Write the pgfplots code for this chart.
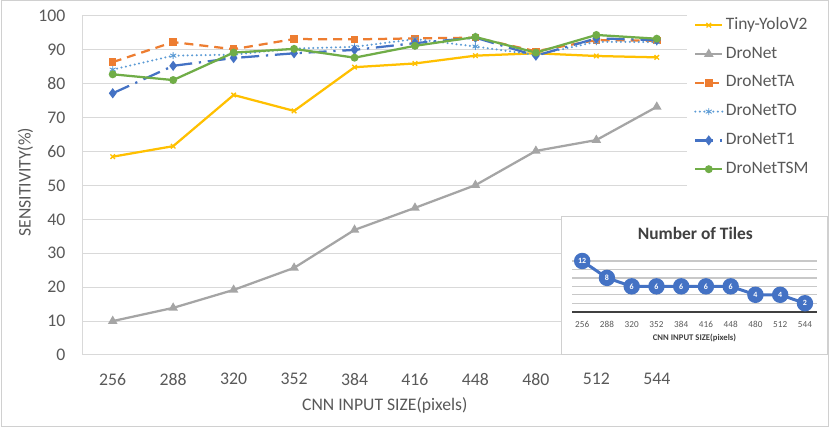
\documentclass[border=0pt]{standalone}
\usepackage{fontspec}
\setmainfont{Carlito}
\usepackage{pgfplots}
\pgfplotsset{compat=1.18}
\definecolor{cYel}{HTML}{FFC000}
\definecolor{cGray}{HTML}{A5A5A5}
\definecolor{cOra}{HTML}{ED7D31}
\definecolor{cLBlue}{HTML}{5B9BD5}
\definecolor{cBlue}{HTML}{4472C4}
\definecolor{cGreen}{HTML}{70AD47}
\definecolor{cGrid}{HTML}{D9D9D9}
\definecolor{cGridI}{HTML}{C8C8C8}
\definecolor{cText}{HTML}{595959}
\definecolor{cDark}{HTML}{404040}
\definecolor{cBorder}{HTML}{D0D0D0}
\begin{document}
\begin{tikzpicture}[x=1bp,y=1bp]
\path[use as bounding box] (0bp,0bp) rectangle (830bp,427bp);
\draw[draw=cBorder, line width=1bp, fill=white] (1bp,1bp) rectangle (828.5bp,426bp);
\begin{axis}[
  at={(82.5bp,72bp)}, anchor=south west, scale only axis,
  width=604.5bp, height=339bp,
  xmin=-0.5, xmax=9.5, ymin=0, ymax=100,
  xtick={0,...,9}, xticklabels={256,288,320,352,384,416,448,480,512,544},
  ytick={0,10,...,100},
  ymajorgrids, grid style={draw=cGrid, line width=1bp},
  axis lines*=left, axis line style={draw=cGrid, line width=1bp, -},
  major tick length=0,
  /pgf/number format/assume math mode=true,
  tick label style={font=\fontsize{17.8}{20}\selectfont, text=cText},
  yticklabel style={inner sep=0pt, anchor=east, xshift=-17bp},
  xticklabel style={inner sep=0pt, anchor=north, yshift=-18bp},
  clip=false,
  legend style={at={(axis description cs:1.0115,0.997)}, anchor=north west,
    draw=none, fill=none, font=\fontsize{17.5}{20}\selectfont, text=cText,
    row sep=12.8bp, column sep=2.5bp, inner sep=0pt,
    nodes={inner sep=0pt, text height=12bp, text depth=4bp}},
  legend cell align=left,
  legend image code/.code={\draw[mark repeat=2,mark phase=2,#1] plot coordinates {(0bp,0bp)(13.5bp,0bp)(27bp,0bp)};},
  every axis plot/.append style={line width=2.25bp},
]
\addplot[cYel, mark=x, mark size=3.2bp, mark options={solid, line width=1.3bp}] coordinates {
 (0,58.5)(1,61.6)(2,76.7)(3,72.0)(4,84.9)(5,86.0)(6,88.3)(7,89.0)(8,88.2)(9,87.8)};
\addlegendentry{Tiny-YoloV2}
\addplot[cGray, mark=triangle*, mark size=3.3bp, mark options={solid}] coordinates {
 (0,10.0)(1,13.9)(2,19.2)(3,25.7)(4,36.9)(5,43.4)(6,50.1)(7,60.2)(8,63.4)(9,73.2)};
\addlegendentry{DroNet}
\addplot[cOra, dash pattern=on 9bp off 6bp, mark=square*, mark size=2.6bp, mark options={solid}] coordinates {
 (0,86.4)(1,92.3)(2,90.2)(3,93.2)(4,93.1)(5,93.4)(6,93.6)(7,89.6)(8,92.9)(9,92.7)};
\addlegendentry{DroNetTA}
\addplot[cLBlue, line cap=round, dash pattern=on 0bp off 4.5bp, mark=asterisk, mark size=3.2bp, mark options={solid, line width=0.9bp}] coordinates {
 (0,84.2)(1,88.3)(2,88.6)(3,90.4)(4,90.9)(5,93.2)(6,91.0)(7,88.5)(8,92.4)(9,92.3)};
\addlegendentry{DroNetTO}
\addplot[cBlue, dash pattern=on 18bp off 6.75bp on 2.25bp off 6.75bp, mark=diamond*, mark size=3.3bp, mark options={solid}] coordinates {
 (0,77.2)(1,85.3)(2,87.6)(3,89.0)(4,90.0)(5,92.0)(6,93.6)(7,88.3)(8,93.4)(9,92.9)};
\addlegendentry{DroNetT1}
\addplot[cGreen, mark=*, mark size=2.8bp, mark options={solid}] coordinates {
 (0,82.8)(1,81.1)(2,89.2)(3,90.3)(4,87.7)(5,91.2)(6,93.8)(7,89.2)(8,94.4)(9,93.3)};
\addlegendentry{DroNetTSM}
\end{axis}
\node[font=\fontsize{17.7}{20}\selectfont, text=cText, anchor=base] at (384.75bp,17bp) {CNN INPUT SIZE(pixels)};
\node[font=\fontsize{17.7}{20}\selectfont, text=cText, anchor=base, rotate=90] at (30.7bp,244.7bp) {SENSITIVITY(\%)};
% inset
\draw[draw=cBorder, line width=1bp, fill=white] (561.7bp,72.5bp) rectangle (827bp,210.3bp);
\begin{axis}[
  at={(572.3bp,115.3bp)}, anchor=south west, scale only axis,
  width=245bp, height=50.7bp,
  xmin=-0.4, xmax=9.5, ymin=0, ymax=12,
  xtick={0,...,9}, xticklabels={256,288,320,352,384,416,448,480,512,544},
  ytick={2,4,...,12}, yticklabels={},
  extra y ticks={0}, extra y tick labels={},
  extra y tick style={grid style={draw=cDark, line width=2bp}},
  ymajorgrids, grid style={draw=cGridI, line width=1.3bp},
  axis line style={draw=none},
  major tick length=0,
  tick label style={font=\fontsize{9.2}{10}\selectfont, text=cText},
  xticklabel style={inner sep=0pt, anchor=north, yshift=-9.7bp},
  clip=false,
  /pgf/number format/assume math mode=true,
  nodes near coords,
  every node near coord/.append style={anchor=center, yshift=0pt, inner sep=0pt,
     font=\bfseries\fontsize{8}{9}\selectfont, text=white},
]
\addplot[cBlue, line width=3bp, mark=*, mark size=6.7bp, mark options={fill=cBlue, draw=cBlue}] coordinates {
 (0,12)(1,8)(2,6)(3,6)(4,6)(5,6)(6,6)(7,4)(8,4)(9,2)};
\end{axis}
\node[font=\bfseries\fontsize{17.5}{20}\selectfont, text=cDark, anchor=center] at (695.3bp,194bp) {Number of Tiles};
\node[font=\bfseries\fontsize{8.7}{10}\selectfont, text=cDark, anchor=center] at (694.5bp,88.7bp) {CNN INPUT SIZE(pixels)};
\end{tikzpicture}
\end{document}
